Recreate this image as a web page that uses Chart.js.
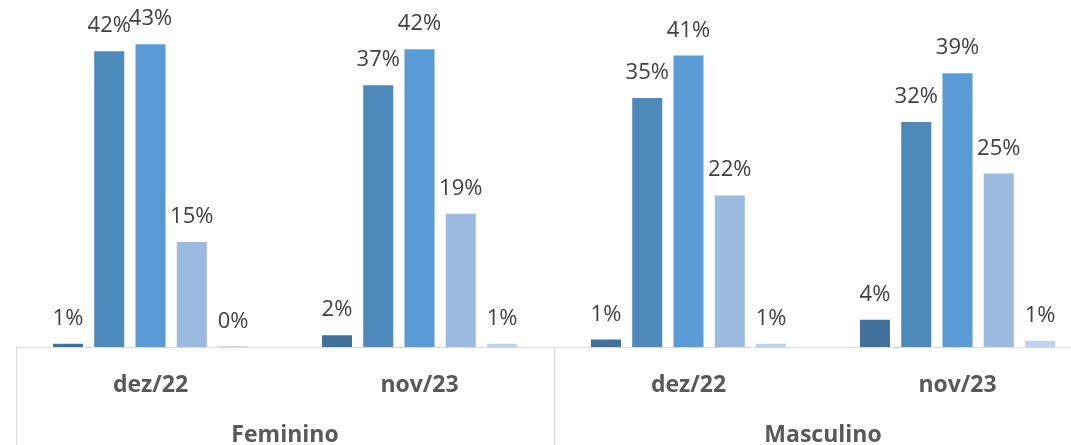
<!DOCTYPE html>
<html>
<head>
<meta charset="utf-8">
<script src="https://cdn.jsdelivr.net/npm/chart.js@4/dist/chart.umd.min.js"></script>
<style>
  html, body { margin: 0; padding: 0; background: #fff; }
  #wrap { width: 1071px; height: 445px; overflow: hidden; position: relative; }
</style>
</head>
<body>
<div id="wrap">
  <canvas id="grafico" width="1092" height="445"></canvas>
</div>
<script>
// categorias (nível interno e externo)
const periodos = ['dez/22', 'nov/23', 'dez/22', 'nov/23'];
const grupos = ['Feminino', 'Masculino'];

// séries (valores em %)
const serie1 = [0.6, 1.8, 1.2, 4.0];
const serie2 = [42.0, 37.2, 35.4, 32.0];
const serie3 = [43.0, 42.3, 41.4, 38.9];
const serie4 = [15.0, 19.0, 21.6, 24.7];
const serie5 = [0.2, 0.6, 0.6, 1.0];

const cores = ['#41719c', '#4e89bc', '#5b9bd5', '#9bbae0', '#bdd3ee'];
const series = [serie1, serie2, serie3, serie4, serie5];

// rótulos de valor acima das barras
const rotulosPlugin = {
    id: 'rotulos',
    afterDatasetsDraw(chart) {
        const ctx = chart.ctx;
        ctx.save();
        ctx.font = '22px "Open Sans"';
        ctx.fillStyle = '#404040';
        ctx.textAlign = 'center';
        ctx.textBaseline = 'alphabetic';
        chart.data.datasets.forEach((ds, i) => {
            chart.getDatasetMeta(i).data.forEach((bar, j) => {
                ctx.fillText(Math.round(ds.data[j]) + '%', bar.x, bar.y - 18);
            });
        });
        ctx.restore();
    }
};

// linhas separadoras dos grupos
const separadoresPlugin = {
    id: 'separadores',
    afterDraw(chart) {
        const ctx = chart.ctx;
        const x = chart.scales.x;
        const meio = (x.getPixelForValue(1) + x.getPixelForValue(2)) / 2;
        ctx.save();
        ctx.strokeStyle = '#d9d9d9';
        ctx.lineWidth = 1;
        [chart.chartArea.left, meio].forEach(px => {
            const p = Math.round(px) + 0.5;
            ctx.beginPath();
            ctx.moveTo(p, x.top);
            ctx.lineTo(p, chart.height);
            ctx.stroke();
        });
        ctx.restore();
    }
};

const ctx = document.getElementById('grafico').getContext('2d');
new Chart(ctx, {
    type: 'bar',
    data: {
        labels: periodos,
        datasets: series.map((s, i) => ({
            label: 'Série ' + (i + 1),
            data: s,
            backgroundColor: cores[i],
            borderColor: 'rgba(255,255,255,0.45)',
            borderWidth: 1,
            categoryPercentage: 0.767,
            barPercentage: 0.776
        }))
    },
    options: {
        responsive: false,
        animation: false,
        devicePixelRatio: 1,
        layout: { padding: { left: 16, top: 15, right: 0, bottom: 0 } },
        plugins: {
            legend: { display: false },
            tooltip: { enabled: false }
        },
        scales: {
            y: { display: false, min: 0, max: 47 },
            x: {
                weight: 0,
                grid: { display: false, drawTicks: false },
                border: { display: true, color: '#d9d9d9', width: 1 },
                ticks: {
                    color: '#595959',
                    font: { family: 'Open Sans', size: 23, weight: 'bold' },
                    padding: 25,
                    maxRotation: 0,
                    autoSkip: false
                },
                afterFit(scale) { scale.height = 48; }
            },
            x2: {
                type: 'category',
                labels: grupos,
                position: 'bottom',
                weight: 1,
                offset: true,
                grid: { display: false, drawTicks: false },
                border: { display: false },
                ticks: {
                    color: '#595959',
                    font: { family: 'Open Sans', size: 23, weight: 'bold' },
                    padding: 27,
                    maxRotation: 0
                },
                afterFit(scale) { scale.height = 50; }
            }
        }
    },
    plugins: [rotulosPlugin, separadoresPlugin]
});
</script>
</body>
</html>
